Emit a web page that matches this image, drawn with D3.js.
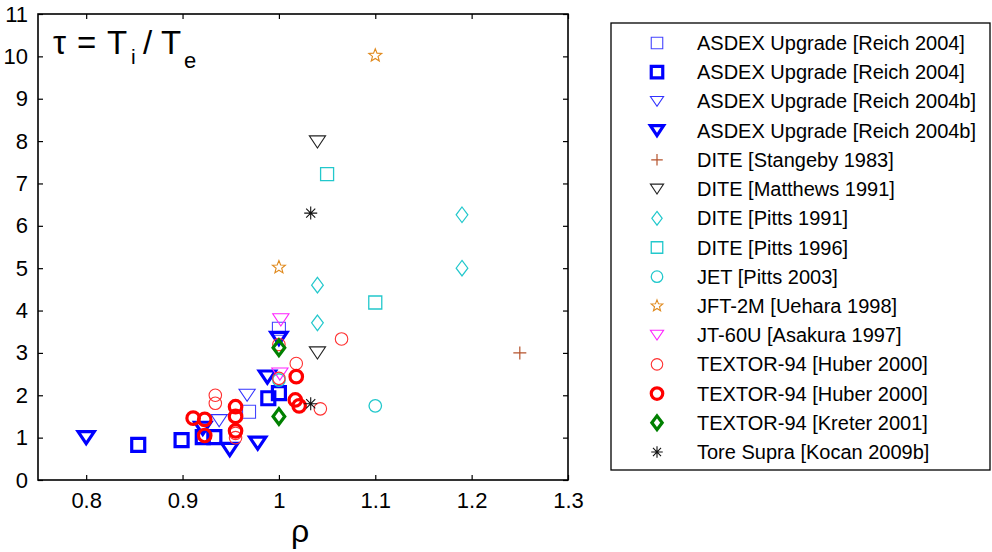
<!DOCTYPE html>
<html>
<head>
<meta charset="utf-8">
<script src="https://cdn.jsdelivr.net/npm/d3@7"></script>
<style>
  html, body { margin: 0; padding: 0; background: #fff; }
  svg { display: block; font-family: "Liberation Sans", Arial, sans-serif; }
</style>
</head>
<body>
<svg id="chart" width="992" height="552"></svg>
<script>
// ---- data ----
const xTicks = [0.8, 0.9, 1.0, 1.1, 1.2, 1.3];
const xTickLabels = ["0.8", "0.9", "1", "1.1", "1.2", "1.3"];
const yTicks = [0,1,2,3,4,5,6,7,8,9,10,11];

const legendLabels = [
  "ASDEX Upgrade [Reich 2004]",
  "ASDEX Upgrade [Reich 2004]",
  "ASDEX Upgrade [Reich 2004b]",
  "ASDEX Upgrade [Reich 2004b]",
  "DITE [Stangeby 1983]",
  "DITE [Matthews 1991]",
  "DITE [Pitts 1991]",
  "DITE [Pitts 1996]",
  "JET [Pitts 2003]",
  "JFT-2M [Uehara 1998]",
  "JT-60U [Asakura 1997]",
  "TEXTOR-94 [Huber 2000]",
  "TEXTOR-94 [Huber 2000]",
  "TEXTOR-94 [Kreter 2001]",
  "Tore Supra [Kocan 2009b]"
];

// [rho, tau]
const asdexReich04 = [[1.0,3.57],[0.969,1.61]];
const asdexReich04Bold = [[0.854,0.83],[0.899,0.94],[0.921,1.01],[0.933,1.01],[0.989,1.93],[1.0,2.05]];
const asdexReich04b = [[0.938,1.4],[0.967,2.0]];
const asdexReich04bBold = [[0.80,1.0],[0.921,1.22],[0.949,0.72],[0.978,0.87],[0.988,2.43],[1.0,3.34]];
const diteStangeby83 = [[1.25,3.0]];
const diteMatthews91 = [[1.04,7.98],[1.04,3.0]];
const ditePitts91 = [[1.04,4.6],[1.04,3.71],[1.19,6.26],[1.19,5.0]];
const ditePitts96 = [[1.05,7.22],[1.1,4.19]];
const jetPitts03 = [[1.1,1.75],[1.0,2.36]];
const jft2mUehara98 = [[1.1,10.02],[1.0,5.02]];
const jt60uAsakura97 = [[1.002,3.78],[1.001,2.5]];
const textorHuber00 = [[0.934,2.0],[0.934,1.81],[0.955,1.1],[0.955,1.0],[1.0,2.4],[1.0,3.2],[1.018,2.75],[1.043,1.68],[1.065,3.33]];
const textorHuber00Bold = [[0.911,1.46],[0.923,1.43],[0.923,1.05],[0.955,1.73],[0.955,1.5],[0.955,1.16],[1.018,2.44],[1.017,1.89],[1.021,1.75]];
const textorKreter01 = [[1.0,3.12],[1.0,1.5]];
const toreSupraKocan09b = [[1.033,6.3],[1.033,1.8]];

const seriesData = [
  asdexReich04, asdexReich04Bold, asdexReich04b, asdexReich04bBold,
  diteStangeby83, diteMatthews91, ditePitts91, ditePitts96, jetPitts03,
  jft2mUehara98, jt60uAsakura97, textorHuber00, textorHuber00Bold,
  textorKreter01, toreSupraKocan09b
];

// ---- styles ----
const styles = [
  {m:"square",   c:"#4444ff", w:1.1},
  {m:"square",   c:"#0000ff", w:3.2},
  {m:"tri",      c:"#3333ff", w:1.1},
  {m:"tri",      c:"#0000ff", w:3.2},
  {m:"plus",     c:"#b5532c", w:1.2},
  {m:"tri",      c:"#222222", w:1.1},
  {m:"diamond",  c:"#22c8cc", w:1.2},
  {m:"square",   c:"#22c8cc", w:1.3},
  {m:"circle",   c:"#22c8cc", w:1.3},
  {m:"star",     c:"#e08a1e", w:1.1},
  {m:"tri",      c:"#ff22ff", w:1.1},
  {m:"circle",   c:"#ff3030", w:1.1},
  {m:"circle",   c:"#ff0000", w:3.2},
  {m:"diamond",  c:"#008000", w:3.2},
  {m:"asterisk", c:"#111111", w:1.1}
];

function markerPath(type, s) {
  const h = s / 2;
  switch (type) {
    case "square": return `M${-h},${-h}H${h}V${h}H${-h}Z`;
    case "tri": { const w = s * 1.2 / 2, hh = s * 0.9 / 2; return `M${-w},${-hh}L${w},${-hh}L0,${hh}Z`; }
    case "diamond": { const w = s * 0.9 / 2, hh = s * 1.2 / 2; return `M0,${-hh}L${w},0L0,${hh}L${-w},0Z`; }
    case "plus": return `M${-h},0H${h}M0,${-h}V${h}`;
    case "asterisk": { const d = h * 0.7; return `M${-h},0H${h}M0,${-h}V${h}M${-d},${-d}L${d},${d}M${-d},${d}L${d},${-d}`; }
    case "star": {
      const pts = [];
      for (let i = 0; i < 10; i++) {
        const r = i % 2 === 0 ? h * 1.05 : h * 0.45;
        const a = -Math.PI / 2 + i * Math.PI / 5;
        pts.push([r * Math.cos(a), r * Math.sin(a)]);
      }
      return "M" + pts.map(p => p[0].toFixed(2) + "," + p[1].toFixed(2)).join("L") + "Z";
    }
  }
  return "";
}

function drawMarker(g, st, s) {
  if (st.m === "circle") {
    g.append("circle").attr("r", s / 2).attr("fill", "none")
      .attr("stroke", st.c).attr("stroke-width", st.w);
  } else {
    g.append("path").attr("d", markerPath(st.m, s)).attr("fill", "none")
      .attr("stroke", st.c).attr("stroke-width", st.w).attr("stroke-linejoin", "miter");
  }
}

// ---- layout ----
const svg = d3.select("#chart");
const L = 38, R = 568, T = 14, B = 480;
const x = d3.scaleLinear().domain([0.75, 1.3]).range([L, R]);
const y = d3.scaleLinear().domain([0, 11]).range([B, T]);

// points
seriesData.forEach((data, i) => {
  const st = styles[i];
  const s = st.m === "circle" ? 12.5 : (st.m === "tri" ? 13.5 : 13);
  data.forEach(d => {
    const g = svg.append("g").attr("transform", `translate(${x(d[0])},${y(d[1])})`);
    drawMarker(g, st, s);
  });
});

// axes
const tickLen = 5;
const axB = svg.append("g").attr("transform", `translate(0,${B})`)
  .call(d3.axisBottom(x).tickValues(xTicks).tickFormat((d, i) => xTickLabels[i]).tickSize(-tickLen).tickPadding(12));
const axT = svg.append("g").attr("transform", `translate(0,${T})`)
  .call(d3.axisTop(x).tickValues(xTicks).tickFormat("").tickSize(-tickLen));
const axL = svg.append("g").attr("transform", `translate(${L},0)`)
  .call(d3.axisLeft(y).tickValues(yTicks).tickFormat(d3.format("d")).tickSize(-tickLen).tickPadding(10));
const axR = svg.append("g").attr("transform", `translate(${R},0)`)
  .call(d3.axisRight(y).tickValues(yTicks).tickFormat("").tickSize(-tickLen));
[axB, axT, axL, axR].forEach(a => {
  a.select(".domain").remove();
  a.selectAll(".tick line").attr("stroke", "#000").attr("stroke-width", 1.2);
  a.selectAll("text").attr("font-size", 22).attr("fill", "#000")
    .attr("font-family", "'Liberation Sans', Arial, sans-serif");
});
svg.append("rect").attr("x", L).attr("y", T).attr("width", R - L).attr("height", B - T)
  .attr("fill", "none").attr("stroke", "#000").attr("stroke-width", 1.6);

// title in plot (TeX-like spacing)
const tg = svg.append("g").attr("font-size", 33).attr("fill", "#000");
const titleParts = [
  {t:"\u03C4", x:53, y:54, fs:33},
  {t:"=", x:77, y:54, fs:33},
  {t:"T", x:107, y:54, fs:33},
  {t:"i", x:131, y:64, fs:21},
  {t:"/", x:143, y:54, fs:33},
  {t:"T", x:161, y:54, fs:33},
  {t:"e", x:184, y:68, fs:22}
];
titleParts.forEach(p => {
  tg.append("text").attr("x", p.x).attr("y", p.y).attr("font-size", p.fs).text(p.t);
});

// x label
svg.append("text").attr("x", 300).attr("y", 542).attr("text-anchor", "middle")
  .attr("font-size", 32).attr("fill", "#000").text("\u03C1");

// legend
const lg = svg.append("g");
lg.append("rect").attr("x", 611).attr("y", 23).attr("width", 379).attr("height", 447)
  .attr("fill", "#fff").attr("stroke", "#000").attr("stroke-width", 1.3);
const rowY = d3.scaleLinear().domain([0, 14]).range([43, 452]);
legendLabels.forEach((lab, i) => {
  const yy = rowY(i);
  const g = lg.append("g").attr("transform", `translate(657,${yy})`);
  const st = styles[i];
  drawMarker(g, st, st.m === "tri" ? 11 : 11.5);
  lg.append("text").attr("x", 697).attr("y", yy).attr("dy", "0.35em")
    .attr("font-size", 20).attr("fill", "#000").text(lab);
});
</script>
</body>
</html>
